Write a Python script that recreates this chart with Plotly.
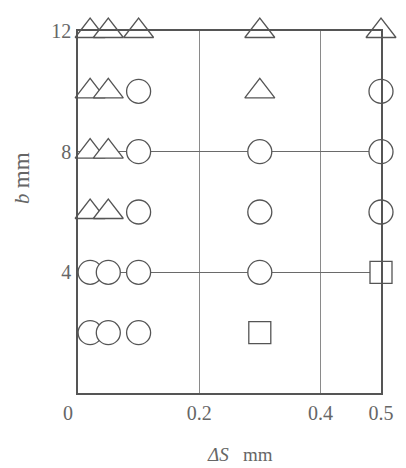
import plotly.graph_objects as go

# Data
triangle_x = [0.02, 0.05, 0.1, 0.3, 0.5,
              0.02, 0.05, 0.3,
              0.02, 0.05,
              0.02, 0.05]
triangle_y = [12, 12, 12, 12, 12,
              10, 10, 10,
              8, 8,
              6, 6]
circle_x = [0.1, 0.5,
            0.1, 0.3, 0.5,
            0.1, 0.3, 0.5,
            0.02, 0.05, 0.1, 0.3,
            0.02, 0.05, 0.1]
circle_y = [10, 10,
            8, 8, 8,
            6, 6, 6,
            4, 4, 4, 4,
            2, 2, 2]
square_x = [0.5, 0.3]
square_y = [4, 2]

x_ticks = [0, 0.2, 0.4, 0.5]
x_ticklabels = ["0", "0.2", "0.4", "0.5"]
y_ticks = [4, 8, 12]
y_ticklabels = ["4", "8", "12"]

ink = "#555555"
font_family = "Liberation Serif, DejaVu Serif, serif"

fig = go.Figure()

def add(xs, ys, symbol, size):
    fig.add_trace(go.Scatter(
        x=xs, y=ys, mode="markers", cliponaxis=False, showlegend=False,
        marker=dict(symbol=symbol, size=size, color="white",
                    line=dict(color=ink, width=1.3)),
    ))

add(circle_x, circle_y, "circle", 24)
add(square_x, square_y, "square", 22)
add(triangle_x, triangle_y, "triangle-up", 26)

# the page body adds an 8px offset, so the figure is 8px smaller
x_text = [t + ("\u00a0" * 4 if t == "0" else "") for t in x_ticklabels]

fig.update_layout(
    width=398, height=460,
    margin=dict(l=70, r=16, t=19, b=75),
    paper_bgcolor="white", plot_bgcolor="white",
    font=dict(family=font_family, size=20, color="#666666"),
    xaxis=dict(range=[0, 0.5], tickvals=x_ticks, ticktext=x_text,
               showgrid=True, gridcolor="#8a8a8a", gridwidth=1,
               zeroline=False, showline=True, linecolor=ink, linewidth=1.5,
               mirror=True, ticks="outside", ticklen=1, tickcolor="rgba(0,0,0,0)"),
    yaxis=dict(range=[0, 12], tickvals=y_ticks, ticktext=y_ticklabels,
               showgrid=True, gridcolor="#6a6a6a", gridwidth=1,
               zeroline=False, showline=True, linecolor=ink, linewidth=1.5,
               mirror=True, ticks="outside", ticklen=1, tickcolor="rgba(0,0,0,0)"),
    annotations=[
        dict(text="<i>ΔS</i>   mm", xref="paper", yref="paper",
             x=0.535, y=-0.17, xanchor="center", yanchor="middle",
             showarrow=False, font=dict(size=19, color="#666666")),
        dict(text="<i>b</i> <span style='font-size:23px'>mm</span>",
             xref="paper", yref="paper",
             x=-0.186, y=0.593, xanchor="center", yanchor="middle",
             textangle=-90, showarrow=False, font=dict(size=21, color="#666666")),
    ],
)

fig.write_html("out.html")
